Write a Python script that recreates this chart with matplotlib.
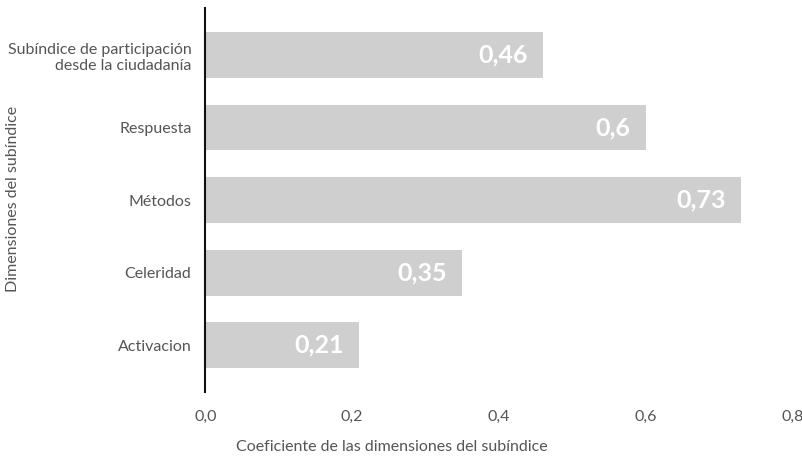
import numpy as np
import matplotlib
matplotlib.use('Agg')
import matplotlib.pyplot as plt

categorias = ['Subíndice de participación\ndesde la ciudadanía', 'Respuesta', 'Métodos', 'Celeridad', 'Activacion']
valores = [0.46, 0.60, 0.73, 0.35, 0.21]
etiquetas = ['0,46', '0,6', '0,73', '0,35', '0,21']
ticks_x = [0.0, 0.2, 0.4, 0.6, 0.8]
ticks_x_txt = ['0,0', '0,2', '0,4', '0,6', '0,8']

plt.rcParams['font.family'] = ['Lato', 'DejaVu Sans']
texto = '#555555'

fig = plt.figure(figsize=(8.02, 4.62), dpi=100)
ax = fig.add_axes([0.256, 0.152, 0.732, 0.831])

y = np.arange(len(categorias))
ax.barh(y, valores, height=0.63, color='#cfcfcf')

for yi, v, t in zip(y, valores, etiquetas):
    ax.annotate(t, (v, yi), xytext=(-11, 0), textcoords='offset points',
                ha='right', va='center', color='white', fontsize=18, fontweight='bold')

ax.set_xlim(0, 0.8)
ax.set_ylim(4.64, -0.65)
ax.set_yticks(y)
ax.set_yticklabels(categorias, fontsize=11.5, color=texto)
ax.set_xticks(ticks_x)
ax.set_xticklabels(ticks_x_txt, fontsize=11.5, color=texto)
ax.tick_params(axis='both', length=0)
ax.tick_params(axis='y', pad=10)
ax.tick_params(axis='x', pad=13)

for s in ['top', 'right', 'bottom']:
    ax.spines[s].set_visible(False)
ax.spines['left'].set_linewidth(1.5)
ax.spines['left'].set_color('#111111')

fig.text(0.488, 0.032, 'Coeficiente de las dimensiones del subíndice', ha='center', va='center',
         fontsize=11.5, color=texto)
fig.text(0.016, 0.57, 'Dimensiones del subíndice', rotation=90, ha='center', va='center',
         fontsize=11.5, color=texto)

fig.savefig('out.png', dpi=100)
